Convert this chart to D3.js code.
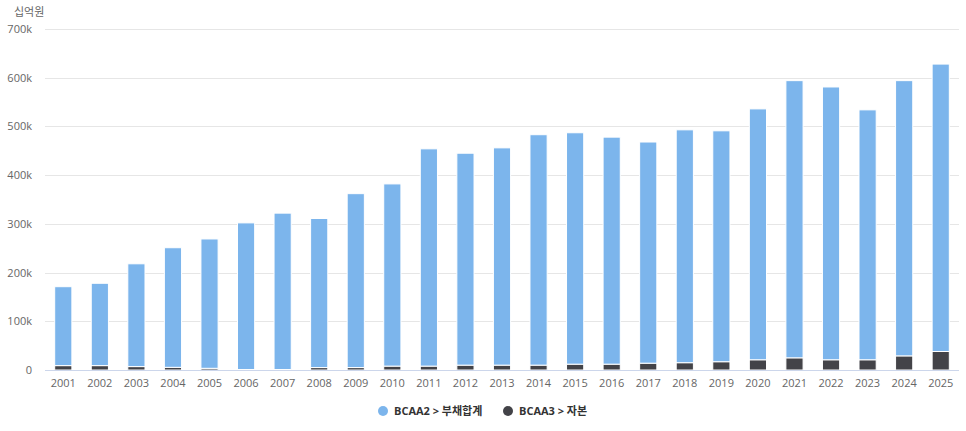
<!DOCTYPE html>
<html>
<head>
<meta charset="utf-8">
<script src="https://cdn.jsdelivr.net/npm/d3@7"></script>
<style>
  body { margin: 0; background: #fff; }
  svg { display: block; font-family: "Open Sans", "Noto Sans CJK KR", sans-serif; }
</style>
</head>
<body>
<svg id="chart"></svg>
<script>
// years on the x axis
const years = ['2001', '2002', '2003', '2004', '2005', '2006', '2007', '2008', '2009', '2010',
    '2011', '2012', '2013', '2014', '2015', '2016', '2017', '2018', '2019', '2020',
    '2021', '2022', '2023', '2024', '2025'];

// BCAA3 > 자본 (bottom of stack), 십억원
const equity = [9000, 9000, 7000, 5500, 3500, 1000, 1000, 5000, 5000, 8000,
    8000, 10000, 10000, 10000, 12000, 12000, 14000, 15000, 17000, 21000,
    25000, 21000, 21000, 29000, 38000];

// stack totals
const totals = [171000, 178000, 218000, 251000, 269000, 302000, 322000, 311000, 362000, 382000,
    454000, 445000, 456000, 483000, 487000, 478000, 468000, 493000, 491000, 536000,
    594000, 581000, 534000, 594000, 628000];

// BCAA2 > 부채합계 (top of stack)
const liabilities = totals.map((t, i) => t - equity[i]);

const yTicks = [0, 100000, 200000, 300000, 400000, 500000, 600000, 700000];
const seriesNames = ['BCAA2 > 부채합계', 'BCAA3 > 자본'];
const colors = ['#7cb5ec', '#434348'];

const W = 966, H = 431;
const margin = { top: 29, right: 7, bottom: 61, left: 45 };
const width = W - margin.left - margin.right;
const height = H - margin.top - margin.bottom;

const svg = d3.select('#chart').attr('width', W).attr('height', H);
const g = svg.append('g').attr('transform', `translate(${margin.left}, ${margin.top})`);

const x = d3.scaleBand()
    .domain(years)
    .range([0, width])
    .paddingInner(0.53)
    .paddingOuter(0.265);

const y = d3.scaleLinear()
    .domain([0, 700000])
    .range([height, 0]);

// grid lines
g.append('g')
    .selectAll('line')
    .data(yTicks.slice(1))
    .join('line')
    .attr('x1', 0)
    .attr('x2', width)
    .attr('y1', d => Math.round(y(d)) + 0.5)
    .attr('y2', d => Math.round(y(d)) + 0.5)
    .attr('stroke', '#e6e6e6');

// y labels
g.append('g')
    .selectAll('text')
    .data(yTicks)
    .join('text')
    .attr('x', -13)
    .attr('y', d => y(d) + 4)
    .attr('text-anchor', 'end')
    .attr('font-size', 11)
    .attr('fill', '#666')
    .text(d => d === 0 ? '0' : (d / 1000) + 'k');

svg.append('text')
    .attr('x', 14)
    .attr('y', 16)
    .attr('font-size', 11)
    .attr('fill', '#666')
    .text('십억원');

// stacked data
const rows = years.map((yr, i) => ({ year: yr, equity: equity[i], liabilities: liabilities[i] }));
const stack = d3.stack().keys(['equity', 'liabilities'])(rows);
const colorFor = { equity: colors[1], liabilities: colors[0] };

g.append('g')
    .selectAll('g')
    .data(stack)
    .join('g')
    .attr('fill', d => colorFor[d.key])
    .selectAll('rect')
    .data(d => d)
    .join('rect')
    .attr('x', d => x(d.data.year))
    .attr('y', d => y(d[1]))
    .attr('width', x.bandwidth())
    .attr('height', d => Math.max(0, y(d[0]) - y(d[1])))
    .attr('stroke', '#fff')
    .attr('stroke-width', 1);

// x axis line
g.append('line')
    .attr('x1', 0)
    .attr('x2', width)
    .attr('y1', height + 0.5)
    .attr('y2', height + 0.5)
    .attr('stroke', '#ccd6eb');

// x labels
g.append('g')
    .selectAll('text')
    .data(years)
    .join('text')
    .attr('x', d => x(d) + x.bandwidth() / 2)
    .attr('y', height + 17)
    .attr('text-anchor', 'middle')
    .attr('font-size', 11)
    .attr('fill', '#666')
    .text(d => d);

// legend
const legend = svg.append('g').attr('transform', 'translate(383, 411)');
const legendX = [0, 125];
seriesNames.forEach((name, i) => {
    const item = legend.append('g').attr('transform', `translate(${legendX[i]}, 0)`);
    item.append('circle')
        .attr('cx', 0)
        .attr('cy', 0)
        .attr('r', 5)
        .attr('fill', colors[i]);
    item.append('text')
        .attr('x', 11)
        .attr('y', 4)
        .attr('font-size', 11)
        .attr('font-weight', 'bold')
        .attr('fill', '#333')
        .text(name);
});
</script>
</body>
</html>
